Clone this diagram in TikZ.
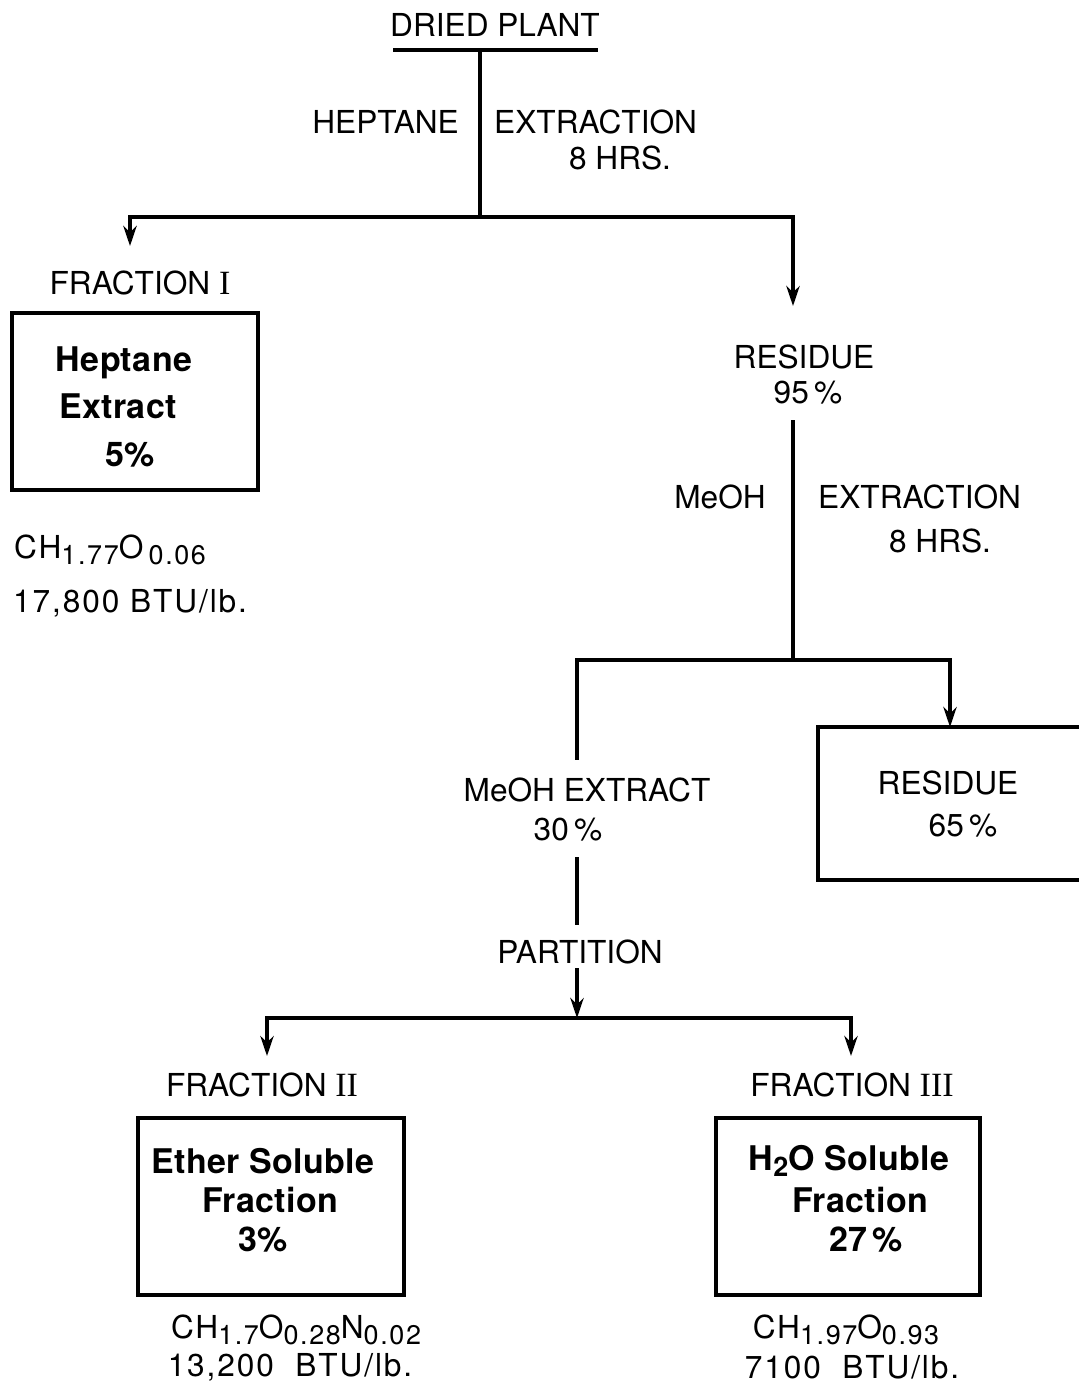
\documentclass[tikz,border=0pt]{standalone}
\usepackage{fontspec}
\setmainfont{TeX Gyre Heros}
\newfontfamily\numfont{Liberation Serif}
\usetikzlibrary{arrows.meta}
\tikzset{
  lbl/.style={inner sep=0pt, font=\fontsize{27}{31}\selectfont},
  flbl/.style={inner sep=0pt, font=\fontsize{27}{31}\selectfont\addfontfeature{LetterSpace=6}},
  blbl/.style={inner sep=0pt, font=\fontsize{29}{33}\selectfont\bfseries\addfontfeature{LetterSpace=1}},
  ln/.style={line width=3.2pt},
  arr/.style={line width=3.2pt, -{Stealth[length=6mm,width=4mm]}},
  boxx/.style={draw, line width=3.2pt, inner sep=0pt},
}
\newcommand{\rn}[1]{{\numfont\fontsize{29}{32}\selectfont #1}}
\newcommand{\sbs}[1]{\raisebox{-0.4ex}{\fontsize{23}{26}\selectfont\addfontfeature{LetterSpace=6}#1}}
\begin{document}
\begin{tikzpicture}[x=0.3mm, y=-0.3mm]
\useasboundingbox (0,0) rectangle (1078,1386);
% top
\node[lbl] (dried) at (495,25) {DRIED PLANT};
\coordinate (ulA) at (393,50);
\coordinate (ulB) at (598,50);
\coordinate (dp) at (480,50);
\draw[ln] (ulA) -- (ulB);
\coordinate (j1) at (480,217);
\draw[ln] (dp) -- (j1);
\node[lbl, anchor=east] (hep) at (459,122) {HEPTANE};
\node[lbl, anchor=west] (ext1) at (494,122) {EXTRACTION};
\node[lbl] (hrs1) at (620,158) {8 HRS.};
\coordinate (a1) at (130,246);
\coordinate (a2) at (793,306);
\draw[arr] (j1) -| (a1);
\draw[arr] (j1) -| (a2);
% fraction I
\node[lbl] (fr1) at (140,283) {FRACTION \rn{I}};
\node[boxx, minimum width=73.8mm, minimum height=53.1mm] (box1) at (135,401.5) {};
\node[blbl] (b1a) at (124,363) {Heptane};
\node[blbl] (b1b) at (118,406) {Extract};
\node[blbl] (b1c) at (130,455) {5\%};
\node[flbl, anchor=west] (f1a) at (14,550) {CH\sbs{1.77}O\,\sbs{0.06}};
\node[flbl, anchor=west] (f1b) at (13,603) {17,800 BTU/lb.};
% residue 95
\node[lbl] (res1) at (804,357) {RESIDUE};
\node[lbl] (res1b) at (808,393) {95\,\%};
\coordinate (r1) at (793,420);
\coordinate (j2) at (793,660);
\draw[ln] (r1) -- (j2);
\node[lbl, anchor=east] (meoh) at (766,497) {MeOH};
\node[lbl, anchor=west] (ext2) at (818,497) {EXTRACTION};
\node[lbl] (hrs2) at (940,541) {8 HRS.};
\coordinate (m1) at (577,760);
\coordinate (a3) at (950,727);
\draw[ln] (j2) -| (m1);
\draw[arr] (j2) -| (a3);
% residue box
\draw[ln] (1080,727) -- (818,727) -- (818,880) -- (1080,880);
\node[lbl] (res2) at (948,783) {RESIDUE};
\node[lbl] (res2b) at (963,826) {65\,\%};
% MeOH extract
\node[lbl] (mex) at (587,790) {MeOH EXTRACT};
\node[lbl] (mexb) at (568,830) {30\,\%};
\coordinate (m2) at (577,857);
\coordinate (m3) at (577,925);
\draw[ln] (m2) -- (m3);
\node[lbl] (part) at (580,952) {PARTITION};
\coordinate (p1) at (577,968);
\coordinate (j3) at (577,1018);
\draw[arr] (p1) -- (j3);
\coordinate (a4) at (267,1056);
\coordinate (a5) at (851,1056);
\draw[arr] (j3) -| (a4);
\draw[arr] (j3) -| (a5);
% fraction II
\node[lbl] (fr2) at (262,1085) {FRACTION \rn{II}};
\node[boxx, minimum width=79.8mm, minimum height=53.1mm] (box2) at (271,1206.5) {};
\node[blbl] (b2a) at (263,1161) {Ether Soluble};
\node[blbl] (b2b) at (270,1200) {Fraction};
\node[blbl] (b2c) at (263,1240) {3\%};
\node[flbl] (f2a) at (296,1330) {CH\sbs{1.7}O\sbs{0.28}N\sbs{0.02}};
\node[flbl] (f2b) at (290,1367) {13,200\ \ BTU/lb.};
% fraction III
\node[lbl] (fr3) at (852,1085) {FRACTION \rn{III}};
\node[boxx, minimum width=79.2mm, minimum height=53.1mm] (box3) at (848,1206.5) {};
\node[blbl] (b3a) at (849,1161) {H\raisebox{-0.3ex}{\fontsize{23}{26}\selectfont 2}O Soluble};
\node[blbl] (b3b) at (860,1200) {Fraction};
\node[blbl] (b3c) at (866,1240) {27\,\%};
\node[flbl] (f3a) at (846,1330) {CH\sbs{1.97}O\sbs{0.93}};
\node[flbl] (f3b) at (852,1367) {7100\ \ BTU/lb.};
\end{tikzpicture}
\end{document}
